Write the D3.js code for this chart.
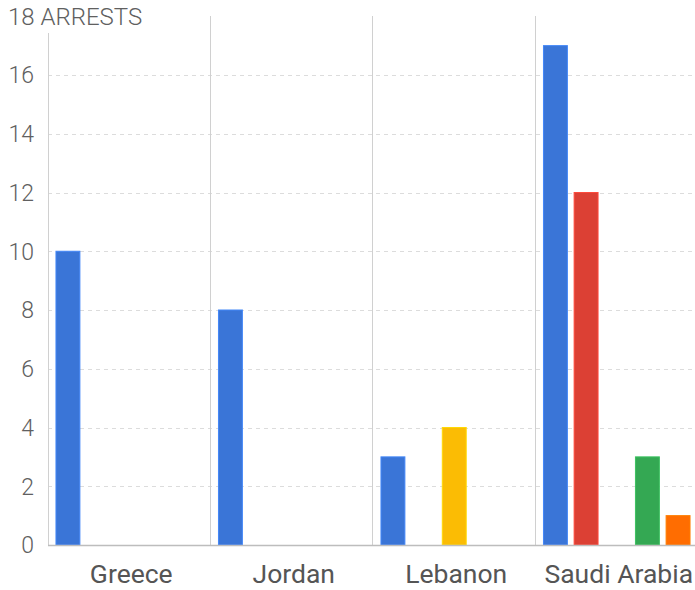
<!DOCTYPE html>
<html><head><meta charset="utf-8">
<script src="https://cdn.jsdelivr.net/npm/d3@7"></script>
<style>body{margin:0;background:#fff}svg{display:block;font-family:Roboto,sans-serif}</style>
</head><body><svg id="c" width="695" height="590"></svg>
<script>
const categories = ["Greece", "Jordan", "Lebanon", "Saudi Arabia"];
const seriesNames = ["Series 1", "Series 2", "Series 3", "Series 4", "Series 5"];
const seriesColors = ["#3a75d7", "#dc4034", "#fbbc04", "#34a853", "#ff6d01"];
const series1 = [10, 8, 3, 17];
const series2 = [0, 0, 0, 12];
const series3 = [0, 0, 4, 0];
const series4 = [0, 0, 0, 3];
const series5 = [0, 0, 0, 1];
const yTicks = [0, 2, 4, 6, 8, 10, 12, 14, 16, 18];
const yTitle = "ARRESTS";

const allSeries = [series1, series2, series3, series4, series5];
const svg = d3.select("#c");
const left = 48, right = 698, bottom = 545;
const x = d3.scaleBand().domain(categories).range([left, right]);
const y = d3.scaleLinear().domain([0, 18]).range([bottom, 16.25]);
const xs = d3.scaleBand().domain(seriesNames).range([0, x.bandwidth()]).paddingInner(0.22).paddingOuter(0.26);

// grid
svg.append("g").selectAll("line").data(yTicks.filter(d => d > 0 && d < 18)).join("line")
  .attr("x1", left).attr("x2", 695).attr("y1", d => Math.round(y(d)) + 0.5).attr("y2", d => Math.round(y(d)) + 0.5)
  .attr("stroke", "#dcdcdc").attr("stroke-dasharray", "4,4");

// separators
svg.append("g").selectAll("line").data(categories.slice(1)).join("line")
  .attr("x1", d => Math.round(x(d)) - 0.5).attr("x2", d => Math.round(x(d)) - 0.5)
  .attr("y1", 16).attr("y2", bottom).attr("stroke", "#d0d0d0");

// bars
const data = [];
categories.forEach((c, i) => allSeries.forEach((s, j) => { if (s[i] > 0) data.push({c, s: seriesNames[j], v: s[i], col: seriesColors[j]}); }));
svg.append("g").selectAll("rect").data(data).join("rect")
  .attr("x", d => x(d.c) + xs(d.s)).attr("width", xs.bandwidth())
  .attr("y", d => y(d.v)).attr("height", d => bottom - y(d.v))
  .attr("fill", d => d.col).attr("stroke", d => d3.color(d.col).brighter(0.4)).attr("stroke-width", 1);

// y axis line
svg.append("line").attr("x1", left + 0.5).attr("x2", left + 0.5).attr("y1", 33).attr("y2", bottom).attr("stroke", "#d0d0d0");
// x axis line
svg.append("line").attr("x1", left).attr("x2", 695).attr("y1", bottom + 0.5).attr("y2", bottom + 0.5).attr("stroke", "#bdbdbd").attr("stroke-width", 1.5);

// y labels
svg.append("g").selectAll("text").data(yTicks.filter(d => d < 18)).join("text")
  .attr("x", 34).attr("y", d => y(d)).attr("dy", "0.36em").attr("text-anchor", "end")
  .attr("font-size", 23).attr("font-weight", 300).attr("fill", "#606060").text(d => d);
svg.append("text").attr("x", 8).attr("y", y(18)).attr("dy", "0.36em")
  .attr("font-size", 24).attr("font-weight", 300).attr("fill", "#606060").text("18 " + yTitle);

// x labels
svg.append("g").selectAll("text").data(categories).join("text")
  .attr("x", d => x(d) + x.bandwidth() / 2 + 2).attr("y", 583).attr("text-anchor", "middle")
  .attr("font-size", 26.5).attr("font-weight", 400).attr("fill", "#555").text(d => d);
</script></body></html>
